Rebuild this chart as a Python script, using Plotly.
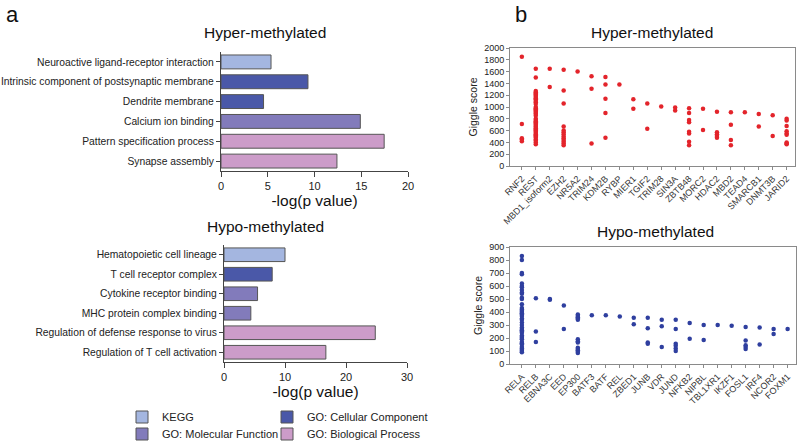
import plotly.graph_objects as go

# ---- panel a: enrichment bars ----
hyper_terms = ["Neuroactive ligand-receptor interaction",
               "Intrinsic component of postsynaptic membrane",
               "Dendrite membrane", "Calcium ion binding",
               "Pattern specification process", "Synapse assembly"]
hyper_vals = [5.35, 9.3, 4.55, 14.9, 17.45, 12.4]
hyper_types = ["KEGG", "GO: Cellular Component", "GO: Cellular Component",
               "GO: Molecular Function", "GO: Biological Process", "GO: Biological Process"]

hypo_terms = ["Hematopoietic cell lineage", "T cell receptor complex",
              "Cytokine receptor binding", "MHC protein complex binding",
              "Regulation of defense response to virus", "Regulation of T cell activation"]
hypo_vals = [10.0, 7.9, 5.5, 4.4, 24.8, 16.7]
hypo_types = ["KEGG", "GO: Cellular Component", "GO: Molecular Function",
              "GO: Molecular Function", "GO: Biological Process", "GO: Biological Process"]

type_colors = {
    "KEGG": "#a4b6e0",
    "GO: Cellular Component": "#4a58a8",
    "GO: Molecular Function": "#827bbb",
    "GO: Biological Process": "#cc9cc9",
}
# one legend box per entry, laid out as a 2x2 grid
legend_of = {"KEGG": "legend", "GO: Cellular Component": "legend2",
             "GO: Molecular Function": "legend3", "GO: Biological Process": "legend4"}

# ---- panel b: giggle scores ----
hyper_tfs = ["RNF2", "REST", "MBD1_isoform2", "EZH2", "NR5A2", "TRIM24", "KDM2B", "RYBP",
             "MIER1", "TGIF2", "TRIM28", "SIN3A", "ZBTB48", "MORC2", "HDAC2", "MBD2",
             "TEAD4", "SMARCB1", "DNMT3B", "JARID2"]
hyper_scores = {
    "RNF2": [1850, 710, 470, 450, 420],
    "REST": [1650, 1500, 1270, 1250, 1230, 1210, 1190, 1170, 1150, 1130, 1100, 1080, 1050,
             1000, 980, 960, 940, 920, 900, 880, 850, 800, 780, 760, 740, 720, 700, 680,
             660, 640, 620, 600, 580, 560, 540, 520, 500, 480, 450, 430, 400, 370],
    "MBD1_isoform2": [1650, 1340],
    "EZH2": [1630, 1280, 1060, 670, 600, 570, 540, 500, 470, 440, 410, 380, 350],
    "NR5A2": [1600],
    "TRIM24": [1520, 1310, 380],
    "KDM2B": [1510, 1380, 1140, 900, 480],
    "RYBP": [1380],
    "MIER1": [1130, 970],
    "TGIF2": [1060, 630],
    "TRIM28": [1010],
    "SIN3A": [990, 940],
    "ZBTB48": [980, 900, 780, 740, 580, 550, 410, 350],
    "MORC2": [970, 610],
    "HDAC2": [920, 570, 540, 510, 480],
    "MBD2": [910, 700, 440, 350],
    "TEAD4": [910],
    "SMARCB1": [880, 670],
    "DNMT3B": [860, 510],
    "JARID2": [800, 770, 680, 590, 550, 530, 400, 380, 370],
}

hypo_tfs = ["RELA", "RELB", "EBNA3C", "EED", "EP300", "BATF3", "BATF", "REL", "ZBED1",
            "JUNB", "VDR", "JUND", "NFKB2", "NIPBL", "TBL1XR1", "IKZF1", "FOSL1", "IRF4",
            "NCOR2", "FOXM1"]
hypo_scores = {
    "RELA": [830, 800, 700, 690, 620, 600, 590, 570, 550, 540, 510, 500, 460, 430, 420,
             410, 400, 390, 380, 370, 350, 340, 320, 300, 280, 270, 260, 250, 240, 220,
             210, 200, 190, 170, 160, 150, 130, 120, 110, 100, 90],
    "RELB": [505, 250, 170],
    "EBNA3C": [500, 495],
    "EED": [450, 270],
    "EP300": [380, 370, 360, 350, 340, 190, 175, 165, 125, 115, 105, 95, 85],
    "BATF3": [375],
    "BATF": [375],
    "REL": [365],
    "ZBED1": [355, 305],
    "JUNB": [355, 275, 165, 155],
    "VDR": [340, 290, 130],
    "JUND": [340, 270, 155, 140, 120, 100],
    "NFKB2": [315, 195],
    "NIPBL": [300, 185],
    "TBL1XR1": [300],
    "IKZF1": [295],
    "FOSL1": [285, 180, 145, 130, 115],
    "IRF4": [280, 150],
    "NCOR2": [270, 230],
    "FOXM1": [270],
}

W, H = 800, 441
FONT = "Liberation Sans, Arial, sans-serif"


def px_x(a, b):
    return [a / W, b / W]


def px_y(top, bottom):
    return [1 - bottom / H, 1 - top / H]


fig = go.Figure()

shown = set()
for terms, vals, types, ax in [(hyper_terms, hyper_vals, hyper_types, ("x", "y")),
                               (hypo_terms, hypo_vals, hypo_types, ("x2", "y2"))]:
    for t in type_colors:
        ys = [terms[i] for i in range(len(terms)) if types[i] == t]
        xs = [vals[i] for i in range(len(terms)) if types[i] == t]
        fig.add_trace(go.Bar(
            x=xs, y=ys, orientation="h", width=0.7,
            marker=dict(color=type_colors[t], line=dict(color="#555555", width=1)),
            name=t, legendgroup=t, legend=legend_of[t],
            showlegend=t not in shown,
            xaxis=ax[0], yaxis=ax[1]))
        shown.add(t)

for tfs, scores, color, ax in [(hyper_tfs, hyper_scores, "#e3242b", ("x3", "y3")),
                               (hypo_tfs, hypo_scores, "#2f3f9f", ("x4", "y4"))]:
    xs, ys = [], []
    for tf in tfs:
        xs += [tf] * len(scores[tf])
        ys += scores[tf]
    fig.add_trace(go.Scatter(x=xs, y=ys, mode="markers",
                             marker=dict(color=color, size=4.5),
                             showlegend=False, xaxis=ax[0], yaxis=ax[1]))

bar_x = dict(showline=True, linecolor="#444", linewidth=1.2, ticks="outside",
             ticklen=5, tickcolor="#444", showgrid=False, zeroline=False, automargin=False,
             tickfont=dict(size=11, color="#222"),
             title=dict(text="-log(p value)", font=dict(size=15.5, color="#111"), standoff=0))
bar_y = dict(showline=True, linecolor="#444", linewidth=1.2, ticks="outside",
             ticklen=4, tickcolor="#444", showgrid=False, autorange="reversed",
             automargin=False, tickfont=dict(size=10.3, color="#222"), categoryorder="array")
sc_x = dict(showline=True, linecolor="#8a8a8a", linewidth=1, mirror=True, ticks="outside",
            ticklen=3, tickcolor="#8a8a8a", showgrid=False, tickangle=-45, automargin=False,
            tickfont=dict(size=9, color="#333"), categoryorder="array")
sc_y = dict(showline=True, linecolor="#8a8a8a", linewidth=1, mirror=True, ticks="outside",
            ticklen=3, tickcolor="#8a8a8a", showgrid=False, zeroline=False, automargin=False,
            tickfont=dict(size=9, color="#222"),
            title=dict(text="Giggle score", font=dict(size=10.5, color="#222"), standoff=4))

leg = dict(orientation="v", xanchor="left", yanchor="middle", tracegroupgap=0,
           font=dict(size=11, color="#222"), bgcolor="rgba(0,0,0,0)", itemwidth=30)
col1, col2, row1, row2 = 122, 267, 417, 434

fig.update_layout(
    width=W, height=H, margin=dict(l=0, r=0, t=0, b=0, autoexpand=False),
    paper_bgcolor="white", plot_bgcolor="white",
    font=dict(family=FONT, color="#222"),
    barmode="overlay",
    xaxis=dict(bar_x, domain=px_x(221, 408), range=[0, 20], tickvals=[0, 5, 10, 15, 20],
               anchor="y"),
    yaxis=dict(bar_y, domain=px_y(52, 171), categoryarray=hyper_terms, anchor="x"),
    xaxis2=dict(bar_x, domain=px_x(224, 407), range=[0, 30], tickvals=[0, 10, 20, 30],
                anchor="y2"),
    yaxis2=dict(bar_y, domain=px_y(245, 362), categoryarray=hypo_terms, anchor="x2"),
    xaxis3=dict(sc_x, domain=px_x(510, 795), range=[-0.85, 19.6], categoryarray=hyper_tfs,
                anchor="y3"),
    yaxis3=dict(sc_y, domain=px_y(48, 166), range=[0, 2000], dtick=200, anchor="x3"),
    xaxis4=dict(sc_x, domain=px_x(510, 796), range=[-0.85, 19.6], categoryarray=hypo_tfs,
                anchor="y4"),
    yaxis4=dict(sc_y, domain=px_y(247, 364), range=[0, 900], dtick=100, anchor="x4"),
    legend=dict(leg, x=col1 / W, y=1 - row1 / H),
    legend2=dict(leg, x=col2 / W, y=1 - row1 / H),
    legend3=dict(leg, x=col1 / W, y=1 - row2 / H),
    legend4=dict(leg, x=col2 / W, y=1 - row2 / H),
)

annots = [
    dict(text="a", x=4, y=14, size=22),
    dict(text="b", x=513, y=14, size=22),
    dict(text="Hyper-methylated", x=265, y=32, size=15.5),
    dict(text="Hypo-methylated", x=265, y=226, size=15.5),
    dict(text="Hyper-methylated", x=652, y=33, size=15.5),
    dict(text="Hypo-methylated", x=655, y=232, size=15.5),
]
for a in annots:
    fig.add_annotation(text=a["text"], x=a["x"] / W, y=1 - a["y"] / H, xref="paper", yref="paper",
                       xanchor="left" if len(a["text"]) == 1 else "center", yanchor="middle",
                       showarrow=False, font=dict(size=a["size"], color="#111", family=FONT))

# the page's default body margin would shift the figure by 8px
fig.write_html("out.html", config={"displayModeBar": False},
               post_script="document.body.style.margin='0';")
